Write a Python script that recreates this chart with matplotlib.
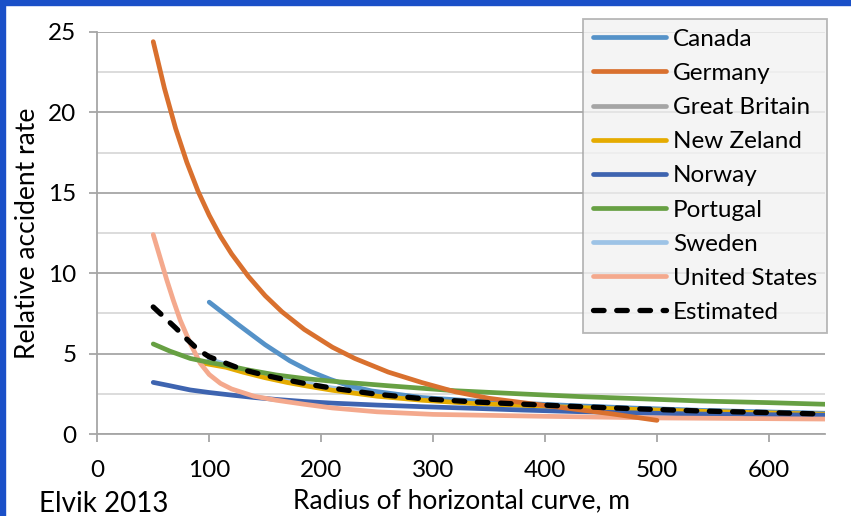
import numpy as np
import matplotlib.pyplot as plt
from matplotlib.patches import Rectangle

plt.rcParams['font.family'] = ['Lato', 'DejaVu Sans']

# Data
r_canada = [100, 125, 150, 172, 190, 208, 225, 245, 290, 335, 385, 420, 480, 540, 600, 650]
canada = [8.2, 6.85, 5.55, 4.55, 3.9, 3.4, 3.0, 2.68, 2.27, 2.06, 1.89, 1.78, 1.61, 1.47, 1.37, 1.29]

r_germany = [50, 60, 70, 80, 90, 100, 110, 120, 135, 150, 165, 185, 210, 230, 260, 290, 320, 350, 380, 420, 460, 500]
germany = [24.4, 21.5, 19.0, 16.9, 15.1, 13.6, 12.3, 11.2, 9.8, 8.6, 7.6, 6.5, 5.4, 4.7, 3.85, 3.2, 2.62, 2.22, 1.95, 1.6, 1.25, 0.85]

r_gb = [100, 130, 170, 210, 250, 290, 335, 385, 420, 480, 540, 600, 650]
great_britain = [4.6, 3.95, 3.3, 2.82, 2.45, 2.18, 1.98, 1.82, 1.71, 1.55, 1.41, 1.31, 1.22]

r_nz = [95, 115, 130, 150, 170, 190, 210, 250, 290, 335, 385, 420, 480, 540, 600, 650]
new_zealand = [4.4, 4.15, 3.85, 3.5, 3.2, 2.95, 2.72, 2.35, 2.1, 1.9, 1.76, 1.67, 1.53, 1.41, 1.31, 1.23]

r_norway = [50, 65, 83, 100, 120, 140, 160, 185, 210, 250, 290, 335, 380, 430, 490, 540, 600, 650]
norway = [3.21, 3.0, 2.74, 2.58, 2.42, 2.27, 2.15, 2.02, 1.92, 1.8, 1.7, 1.6, 1.49, 1.39, 1.3, 1.24, 1.2, 1.17]

r_portugal = [50, 65, 83, 100, 115, 135, 160, 185, 210, 260, 320, 380, 430, 490, 540, 600, 650]
portugal = [5.6, 5.15, 4.7, 4.45, 4.27, 3.98, 3.67, 3.45, 3.28, 3.0, 2.69, 2.49, 2.33, 2.18, 2.05, 1.95, 1.85]

r_sweden = [100, 130, 170, 210, 250, 290, 335, 385, 420, 480, 540, 600, 650]
sweden = [4.65, 4.0, 3.35, 2.86, 2.5, 2.22, 2.02, 1.86, 1.75, 1.59, 1.45, 1.35, 1.26]

r_us = [50, 56, 62, 68, 74, 83, 92, 100, 110, 120, 140, 160, 185, 210, 250, 300, 400, 500, 650]
united_states = [12.4, 11.0, 9.6, 8.3, 7.1, 5.64, 4.4, 3.7, 3.15, 2.8, 2.35, 2.1, 1.85, 1.62, 1.38, 1.22, 1.1, 1.0, 0.93]

r_est = [50, 60, 70, 80, 90, 100, 115, 130, 150, 170, 190, 210, 250, 290, 335, 385, 420, 480, 540, 600, 650]
estimated = [7.9, 7.25, 6.6, 5.9, 5.25, 4.8, 4.4, 4.0, 3.65, 3.35, 3.08, 2.85, 2.47, 2.2, 2.0, 1.84, 1.73, 1.57, 1.43, 1.33, 1.24]

fig = plt.figure(figsize=(8.51, 5.16), dpi=100)
ax = fig.add_axes([0.1143, 0.1589, 0.855, 0.7791])

lw = 3.4
kw = dict(lw=lw, solid_capstyle='round', solid_joinstyle='round')
l_gb, = ax.plot(r_gb, great_britain, color='#a5a5a5', **kw)
l_se, = ax.plot(r_sweden, sweden, color='#9dc3e6', **kw)
l_ca, = ax.plot(r_canada, canada, color='#5592c8', **kw)
l_nz, = ax.plot(r_nz, new_zealand, color='#e5ab00', **kw)
l_no, = ax.plot(r_norway, norway, color='#3e64b0', **kw)
l_us, = ax.plot(r_us, united_states, color='#f4a98d', **kw)
l_pt, = ax.plot(r_portugal, portugal, color='#67a043', **kw)
l_de, = ax.plot(r_germany, germany, color='#d9702e', **kw)
l_est, = ax.plot(r_est, estimated, color='black', lw=3.8, linestyle=(0, (2.0, 2.4)),
                 dash_capstyle='round')

ax.set_xlim(0, 650)
ax.set_ylim(0, 25)
ax.set_xticks(range(0, 700, 100))
ax.set_yticks(range(0, 30, 5))
ax.set_yticks(np.arange(2.5, 25, 5), minor=True)
ax.tick_params(axis='y', which='minor', length=0)
ax.grid(axis='y', which='major', color='#a6a6a6', lw=1.3)
ax.grid(axis='y', which='minor', color='#d9d9d9', lw=1.3)
ax.set_axisbelow(True)
for s in ['top', 'right']:
    ax.spines[s].set_visible(False)
for s in ['left', 'bottom']:
    ax.spines[s].set_color('#a6a6a6')
    ax.spines[s].set_linewidth(1.3)
ax.tick_params(axis='both', which='major', direction='out', length=6, width=1.3,
               color='#a6a6a6', labelsize=17.5)
ax.tick_params(axis='x', pad=13)
ax.tick_params(axis='y', pad=9)
ax.set_ylabel('Relative accident rate', fontsize=19, labelpad=6)
ax.set_xlabel('Radius of horizontal curve, m', fontsize=19, labelpad=5)

fig.text(0.046, 0.024, 'Elvik 2013', fontsize=20, ha='left', va='center')

handles = [l_ca, l_de, l_gb, l_nz, l_no, l_pt, l_se, l_us, l_est]
labels = ['Canada', 'Germany', 'Great Britain', 'New Zeland', 'Norway', 'Portugal',
          'Sweden', 'United States', 'Estimated']
leg = fig.legend(handles, labels, loc='upper left', bbox_to_anchor=(0.685, 0.963),
                 fontsize=17.5, frameon=True, fancybox=False, borderaxespad=0,
                 handlelength=3.0, handletextpad=0.3, labelspacing=0.54, borderpad=0.4)
leg.get_frame().set_facecolor('#f2f2f2')
leg.get_frame().set_edgecolor('#a6a6a6')
leg.get_frame().set_linewidth(1.3)

# blue frame on top and left edges
fig.patches.append(Rectangle((0, 1 - 5 / 516), 1, 5 / 516, transform=fig.transFigure,
                             color='#1a50c8', zorder=10))
fig.patches.append(Rectangle((0, 0), 5 / 851, 1, transform=fig.transFigure,
                             color='#1a50c8', zorder=10))

plt.savefig('out.png', dpi=100)
